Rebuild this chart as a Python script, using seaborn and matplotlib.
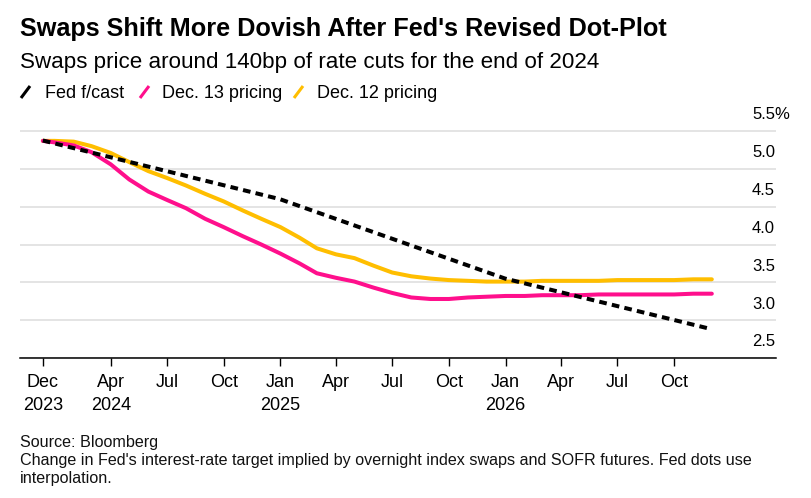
import matplotlib
matplotlib.use("Agg")
import matplotlib.pyplot as plt
from matplotlib.lines import Line2D
import seaborn as sns
import pandas as pd

# ---------------- data ----------------
swap_dates = ["2023-12-13"] + [d.strftime("%Y-%m-%d") for d in pd.date_range("2024-01-01", "2026-12-01", freq="MS")]

dec13_pricing = [5.37, 5.35, 5.31, 5.22, 5.06, 4.86, 4.70, 4.59, 4.48, 4.34, 4.23, 4.11, 4.00,
                 3.88, 3.75, 3.62, 3.56, 3.51, 3.43, 3.36, 3.30, 3.28, 3.28, 3.30, 3.31,
                 3.32, 3.32, 3.33, 3.33, 3.33, 3.34, 3.34, 3.34, 3.34, 3.34, 3.35, 3.35]

dec12_pricing = [5.37, 5.37, 5.36, 5.30, 5.21, 5.09, 4.97, 4.88, 4.78, 4.67, 4.57, 4.45, 4.34,
                 4.23, 4.09, 3.95, 3.87, 3.82, 3.72, 3.63, 3.58, 3.55, 3.53, 3.52, 3.51,
                 3.51, 3.51, 3.52, 3.52, 3.52, 3.52, 3.53, 3.53, 3.53, 3.53, 3.54, 3.54]

fed_dates = ["2023-12-13", "2024-12-31", "2025-12-31", "2026-12-01"]
fed_fcast = [5.375, 4.60, 3.55, 2.88]

tick_dates = ["2023-12-13", "2024-04-01", "2024-07-01", "2024-10-01", "2025-01-01", "2025-04-01",
              "2025-07-01", "2025-10-01", "2026-01-01", "2026-04-01", "2026-07-01", "2026-10-01"]
tick_labels = ["Dec\n2023", "Apr\n2024", "Jul", "Oct", "Jan\n2025", "Apr", "Jul", "Oct",
               "Jan\n2026", "Apr", "Jul", "Oct"]

y_ticks = [2.5, 3.0, 3.5, 4.0, 4.5, 5.0, 5.5]
y_labels = ["2.5", "3.0", "3.5", "4.0", "4.5", "5.0", "5.5%"]

series_names = ["Fed f/cast", "Dec. 13 pricing", "Dec. 12 pricing"]

PINK = "#ff0f8c"
YELLOW = "#ffbe00"
BLACK = "#000000"

# ---------------- figure ----------------
sns.set_theme(style="white")
plt.rcParams['font.family'] = ['Liberation Sans', 'DejaVu Sans']

W, H = 812, 498
fig = plt.figure(figsize=(W / 100, H / 100), dpi=100)
fig.patch.set_facecolor("white")

y_top_px = 126.5
ax = fig.add_axes([20 / W, 1 - 358 / H, 756 / W, (358 - y_top_px) / H])
ax.set_facecolor("white")

sns.lineplot(x=pd.to_datetime(swap_dates), y=dec12_pricing, ax=ax, color=YELLOW,
             linewidth=2.9, legend=False, zorder=3)
sns.lineplot(x=pd.to_datetime(swap_dates), y=dec13_pricing, ax=ax, color=PINK,
             linewidth=2.9, legend=False, zorder=4)
sns.lineplot(x=pd.to_datetime(fed_dates), y=fed_fcast, ax=ax, color=BLACK,
             linewidth=2.9, linestyle=(0, (1.9, 1.3)), legend=False, zorder=5)

ax.set_xlim(pd.Timestamp("2023-11-06"), pd.Timestamp("2027-03-15"))
ax.set_ylim(2.5, 5.56)
ax.set_xlabel("")
ax.set_ylabel("")

for s in ["left", "right", "top"]:
    ax.spines[s].set_visible(False)
ax.spines["bottom"].set_color("black")
ax.spines["bottom"].set_linewidth(1.1)
ax.spines["bottom"].set_zorder(6)

ax.set_yticks(y_ticks)
ax.yaxis.grid(True, color="#dcdcdc", linewidth=1.1)
ax.xaxis.grid(False)
ax.set_axisbelow(True)
ax.tick_params(axis="y", length=0, left=False, right=False, labelleft=False, labelright=False)

ax.set_xticks(pd.to_datetime(tick_dates))
ax.set_xticklabels(tick_labels)
ax.tick_params(axis="x", bottom=True, direction="out", length=5.8, width=1.0, color="black",
               pad=6, labelsize=13, labelcolor="black")
for lbl in ax.get_xticklabels():
    lbl.set_linespacing(1.45)

for v, lab in zip(y_ticks, y_labels):
    ax.annotate(lab, xy=((752 - 20) / 756, v), xycoords=ax.get_yaxis_transform(),
                xytext=(0, 8.4), textcoords="offset points", ha="left", va="baseline",
                fontsize=12, color="black", annotation_clip=False)

# ---------------- titles ----------------
fig.text(20 / W, 1 - 35.7 / H, "Swaps Shift More Dovish After Fed's Revised Dot-Plot",
         fontsize=18.2, fontweight="bold", color="black", ha="left", va="baseline")
fig.text(20 / W, 1 - 68.3 / H, "Swaps price around 140bp of rate cuts for the end of 2024",
         fontsize=16.1, color="black", ha="left", va="baseline")

# ---------------- legend ----------------
legend_items = [(series_names[0], BLACK, 21, 45),
                (series_names[1], PINK, 140, 162),
                (series_names[2], YELLOW, 294, 317)]
for name, col, sx, tx in legend_items:
    fig.add_artist(Line2D([sx / W, (sx + 9) / W], [1 - 98 / H, 1 - 86 / H],
                          transform=fig.transFigure, color=col, linewidth=2.2,
                          solid_capstyle="butt"))
    fig.text(tx / W, 1 - 97.7 / H, name, fontsize=13, color="black",
             ha="left", va="baseline")

# ---------------- footer ----------------
fig.text(20 / W, 1 - 446.7 / H, "Source: Bloomberg", fontsize=11.6, color="#111111",
         ha="left", va="baseline")
fig.text(20 / W, 1 - 465 / H,
         "Change in Fed's interest-rate target implied by overnight index swaps and SOFR futures. Fed dots use",
         fontsize=11.6, color="#111111", ha="left", va="baseline")
fig.text(20 / W, 1 - 482.7 / H, "interpolation.", fontsize=11.6, color="#111111",
         ha="left", va="baseline")

fig.savefig("out.png", dpi=100, facecolor="white")
